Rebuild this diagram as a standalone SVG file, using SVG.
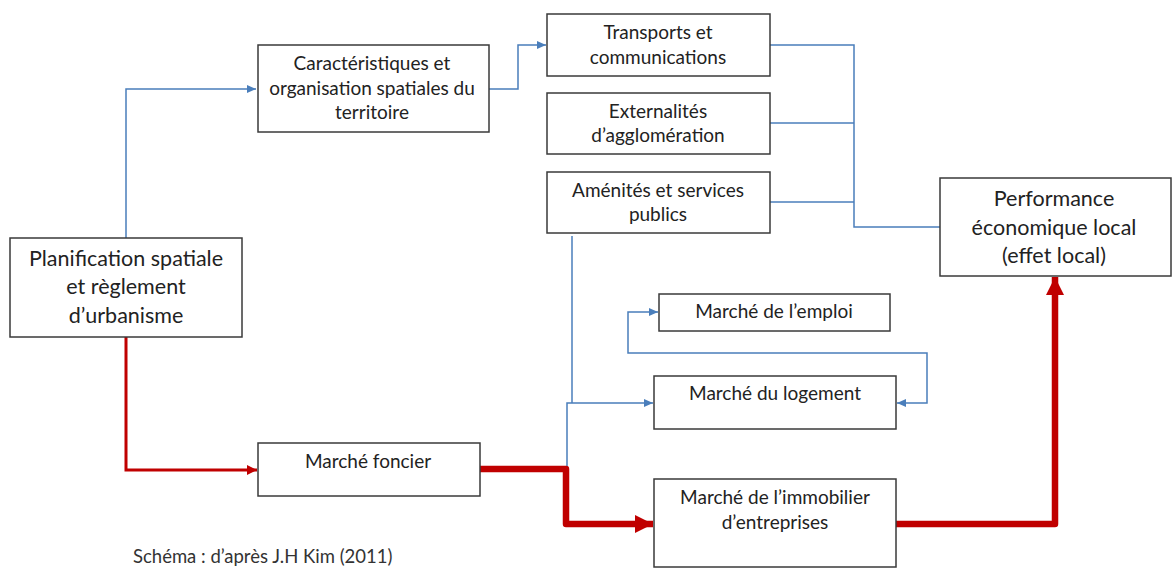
<svg xmlns="http://www.w3.org/2000/svg" width="1173" height="569" viewBox="0 0 1173 569">
<style>
.box{fill:#fff;stroke:#3a3a3a;stroke-width:1.5}
.t{font-family:Lato,"Liberation Sans",sans-serif;font-size:19px;fill:#222;text-anchor:middle}
.tb{font-family:Lato,"Liberation Sans",sans-serif;font-size:21.5px;fill:#222;text-anchor:middle}
.blue{fill:none;stroke:#4a7ebb;stroke-width:1.5}
.red{fill:none;stroke:#c00000;stroke-width:3}
.redk{fill:none;stroke:#c00000;stroke-width:6.5}
</style>
<defs>
<marker id="ab" markerUnits="userSpaceOnUse" markerWidth="10" markerHeight="10" refX="9" refY="5" orient="auto-start-reverse"><path d="M0,1 L9,5 L0,9 Z" fill="#4a7ebb"/></marker>
<marker id="ar" markerUnits="userSpaceOnUse" markerWidth="11" markerHeight="12" refX="10" refY="6" orient="auto"><path d="M0,1 L10,6 L0,11 Z" fill="#c00000"/></marker>
<marker id="ark" markerUnits="userSpaceOnUse" markerWidth="20" markerHeight="20" refX="18" refY="10" orient="auto"><path d="M0,1 L18,10 L0,19 Z" fill="#c00000"/></marker>
</defs>
<g id="connectors">
<path class="blue" d="M126,238 V89 H256" marker-end="url(#ab)"/>
<path class="blue" d="M489,89 H518 V45 H546" marker-end="url(#ab)"/>
<path class="blue" d="M770,45 H854 V227 H940"/>
<path class="blue" d="M770,123 H854"/>
<path class="blue" d="M770,202 H854"/>
<path class="blue" d="M572,236 V403"/>
<path class="blue" d="M567,469 V403 H653" marker-end="url(#ab)"/>
<path class="blue" d="M897,403 H927 V353 H628 V312 H658" marker-start="url(#ab)" marker-end="url(#ab)"/>
<path class="red" d="M126,337 V470 H257" marker-end="url(#ar)"/>
<path class="redk" d="M477,469 H566 V524 H653" marker-end="url(#ark)" stroke-linejoin="round"/>
<path class="redk" d="M894,524 H1055 V277" marker-end="url(#ark)" stroke-linejoin="round"/>
</g>
<g id="planification"><rect class="box" x="10" y="238" width="232" height="99"/>
<text class="tb" x="126" y="266">Planification spatiale</text>
<text class="tb" x="126" y="294">et règlement</text>
<text class="tb" x="126" y="323">d’urbanisme</text></g>
<g id="caracteristiques"><rect class="box" x="258" y="45" width="231" height="87"/>
<text class="t" x="372" y="70">Caractéristiques et</text>
<text class="t" x="372" y="95">organisation spatiales du</text>
<text class="t" x="372" y="119">territoire</text></g>
<g id="transports"><rect class="box" x="547" y="14" width="223" height="62"/>
<text class="t" x="658" y="39">Transports et</text>
<text class="t" x="658" y="64">communications</text></g>
<g id="externalites"><rect class="box" x="547" y="93" width="223" height="61"/>
<text class="t" x="658" y="118">Externalités</text>
<text class="t" x="658" y="142">d’agglomération</text></g>
<g id="amenites"><rect class="box" x="547" y="172" width="223" height="61"/>
<text class="t" x="658" y="197">Aménités et services</text>
<text class="t" x="658" y="221">publics</text></g>
<g id="performance"><rect class="box" x="940" y="178" width="231" height="98"/>
<text class="tb" x="1054" y="206">Performance</text>
<text class="tb" x="1054" y="235">économique local</text>
<text class="tb" x="1054" y="263">(effet local)</text></g>
<g id="emploi"><rect class="box" x="659" y="294" width="231" height="37"/>
<text class="t" x="774" y="318">Marché de l’emploi</text></g>
<g id="logement"><rect class="box" x="654" y="376" width="242" height="53"/>
<text class="t" x="775" y="400">Marché du logement</text></g>
<g id="foncier"><rect class="box" x="258" y="443" width="222" height="53"/>
<text class="t" x="368" y="468">Marché foncier</text></g>
<g id="immobilier"><rect class="box" x="654" y="479" width="242" height="88"/>
<text class="t" x="775" y="504">Marché de l’immobilier</text>
<text class="t" x="775" y="529">d’entreprises</text></g>
<text x="133" y="563" style="font-family:Lato,'Liberation Sans',sans-serif;font-size:18.5px;fill:#333">Schéma : d’après J.H Kim (2011)</text>
</svg>
